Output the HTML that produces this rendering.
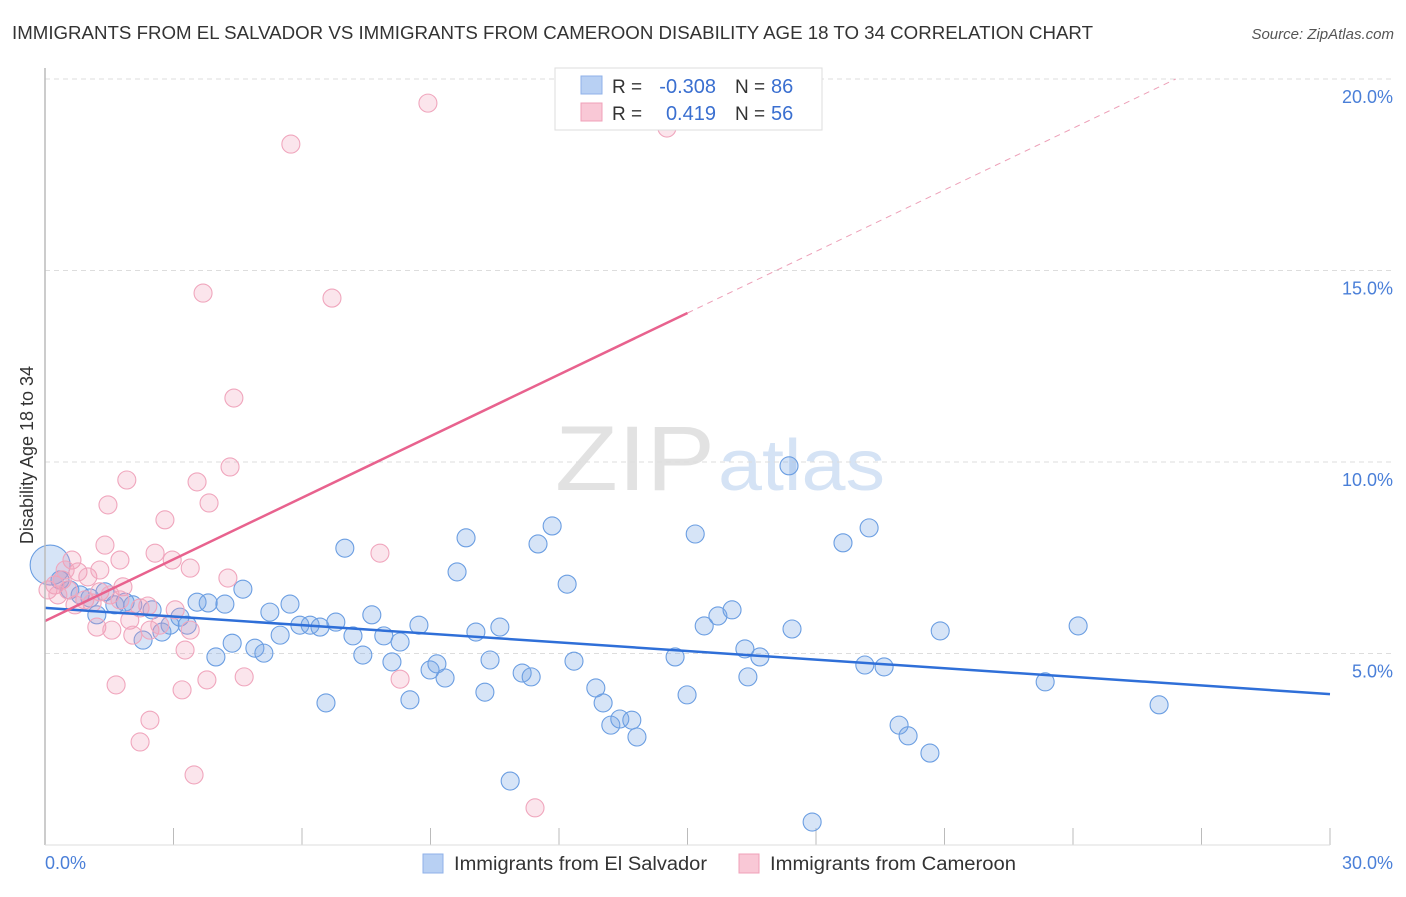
<!DOCTYPE html>
<html><head><meta charset="utf-8"><style>
body{margin:0;background:#fff;font-family:"Liberation Sans",sans-serif;}
svg text{font-family:"Liberation Sans",sans-serif;}
</style></head><body>
<svg width="1406" height="892" xmlns="http://www.w3.org/2000/svg">
<text x="12" y="39" font-size="18" fill="#333" textLength="1081" lengthAdjust="spacingAndGlyphs">IMMIGRANTS FROM EL SALVADOR VS IMMIGRANTS FROM CAMEROON DISABILITY AGE 18 TO 34 CORRELATION CHART</text>
<text x="1394" y="39" font-size="15" fill="#555" text-anchor="end" font-style="italic">Source: ZipAtlas.com</text>
<text x="555" y="490" font-size="92" fill="#e2e2e2" textLength="160" lengthAdjust="spacingAndGlyphs" font-family="Liberation Serif">ZIP</text>
<text x="718" y="490" font-size="72" fill="#d5e3f5" textLength="167" lengthAdjust="spacingAndGlyphs">atlas</text>
<g id="grid"></g>
<g id="blue"></g>
<g id="pink"></g>
<g id="trend"></g>
<line x1="45" y1="68" x2="45" y2="845" stroke="#bbb" stroke-width="1.5"/>
<line x1="45" y1="845" x2="1330" y2="845" stroke="#ddd"/>
<text transform="translate(33,455) rotate(-90)" font-size="18" fill="#333" text-anchor="middle">Disability Age 18 to 34</text>
<text x="45" y="869" font-size="18" fill="#4a7fd8">0.0%</text>
<text x="1393" y="869" font-size="18" fill="#4a7fd8" text-anchor="end">30.0%</text>
<g>
<rect x="555" y="68" width="267" height="62" fill="#fff" stroke="#ddd"/>
<rect x="581" y="76" width="21" height="18" fill="#b8d0f3" stroke="#8fb1e8"/>
<rect x="581" y="103" width="21" height="18" fill="#f9c8d6" stroke="#f0a0b8"/>
<text x="612" y="93" font-size="19" fill="#333">R =</text>
<text x="716" y="93" font-size="20" fill="#3a6fd0" text-anchor="end">-0.308</text>
<text x="735" y="93" font-size="19" fill="#333">N =</text>
<text x="771" y="93" font-size="20" fill="#3a6fd0">86</text>
<text x="612" y="120" font-size="19" fill="#333">R =</text>
<text x="716" y="120" font-size="20" fill="#3a6fd0" text-anchor="end">0.419</text>
<text x="735" y="120" font-size="19" fill="#333">N =</text>
<text x="771" y="120" font-size="20" fill="#3a6fd0">56</text>
</g>
<g><rect x="423" y="854" width="20" height="19" fill="#b8d0f3" stroke="#8fb1e8"/><text x="454" y="870" font-size="19" fill="#333" textLength="253" lengthAdjust="spacingAndGlyphs">Immigrants from El Salvador</text></g>
<g><rect x="739" y="854" width="20" height="19" fill="#f9c8d6" stroke="#f0a0b8"/><text x="770" y="870" font-size="19" fill="#333" textLength="246" lengthAdjust="spacingAndGlyphs">Immigrants from Cameroon</text></g>
</svg>
<script>
const yTicks=[5,10,15,20];
const xTicks=[0,3,6,9,12,15,18,21,24,27,30];
const blueX=[0.12,0.35,0.58,0.82,1.05,1.21,1.40,1.63,1.87,2.05,2.29,2.50,2.73,2.92,3.15,3.32,3.55,3.81,3.99,4.20,4.37,4.62,4.90,5.11,5.25,5.49,5.72,5.95,6.19,6.42,6.56,6.79,7.00,7.19,7.42,7.63,7.91,8.10,8.29,8.52,8.73,8.99,9.15,9.34,9.62,9.83,10.06,10.27,10.39,10.62,10.86,11.14,11.35,11.51,11.84,12.19,12.35,12.86,13.03,13.21,13.42,13.70,13.82,14.71,14.99,15.18,15.39,15.71,16.04,16.34,16.41,16.69,17.37,17.44,17.91,18.63,19.14,19.24,19.59,19.94,20.15,20.66,20.90,23.35,24.12,26.01];
const blueY=[7.31,6.92,6.66,6.53,6.45,6.01,6.61,6.27,6.34,6.27,5.35,6.14,5.56,5.74,5.95,5.74,6.34,6.32,4.91,6.29,5.27,6.68,5.14,5.01,6.08,5.48,6.29,5.74,5.74,5.69,3.71,5.82,7.75,5.46,4.96,6.01,5.46,4.78,5.30,3.79,5.74,4.57,4.73,4.36,7.13,8.02,5.56,3.99,4.83,5.69,1.67,4.49,4.39,7.86,8.33,6.81,4.80,4.10,3.71,3.13,3.29,3.26,2.82,4.91,3.92,8.12,5.72,5.98,6.14,5.12,4.39,4.91,9.90,5.64,0.60,7.89,4.70,8.28,4.65,3.13,2.85,2.40,5.59,4.26,5.72,3.66];
const pinkX=[0.07,0.23,0.40,0.54,0.63,0.77,0.93,1.10,1.21,1.28,1.40,1.47,1.56,1.66,1.75,1.82,1.91,1.98,2.05,2.22,2.40,2.45,2.57,2.80,2.97,3.20,3.27,3.39,3.48,3.55,3.69,3.78,3.83,4.27,4.32,4.41,4.65,5.74,6.70,7.82,8.29,8.94,11.44,14.52,1.52,1.00,0.30,0.70,0.47,2.22,2.45,2.68,3.04,1.28,1.75,3.39];
const pinkY=[6.66,6.79,6.92,6.66,7.44,7.13,6.40,6.32,5.69,6.61,7.83,8.88,5.61,4.18,7.44,6.74,9.53,5.87,5.48,2.69,6.24,3.26,7.62,8.49,7.44,4.05,5.09,7.23,1.83,9.48,14.41,4.31,8.93,6.97,9.87,11.67,4.39,18.30,14.28,7.62,4.33,19.37,0.97,18.72,6.53,7.00,6.53,6.27,7.18,6.19,5.61,5.74,6.14,7.18,6.40,5.61];
const blueTrend=[6.19,3.94];   // value at x=0, x=30
const pinkTrend=[5.85,13.89];  // value at x=0, x=15
const NS='http://www.w3.org/2000/svg';
const sx=v=>45+v/30*1285;
const sy=v=>845-v/5*191.5;
function mk(tag,at,parent){const e=document.createElementNS(NS,tag);for(const k in at)e.setAttribute(k,at[k]);parent.appendChild(e);return e;}
const grid=document.getElementById('grid');
yTicks.forEach(t=>{
 const l=mk('line',{x1:45,x2:1393,y1:sy(t),y2:sy(t),stroke:'#ddd','stroke-dasharray':'5,4'},grid);
 
 
 const tx=mk('text',{x:1393,y:sy(t)+24,'font-size':18,fill:'#4a7fd8','text-anchor':'end'},grid);
 tx.textContent=t.toFixed(1)+'%';
 
 
});
xTicks.forEach(t=>{
 const l=mk('line',{x1:sx(t),x2:sx(t),y1:828,y2:845,stroke:'#bbb'},grid);
 
 
});
const bg=document.getElementById('blue');
blueX.forEach((x,i)=>{
 const c=mk('circle',{cx:sx(x),cy:sy(blueY[i]),r:i===0?20:9,fill:'rgba(120,165,230,0.3)',stroke:'#6b9ee2','stroke-width':1.1},bg);
 
 
});
const pg=document.getElementById('pink');
pinkX.forEach((x,i)=>{
 const c=mk('circle',{cx:sx(x),cy:sy(pinkY[i]),r:9,fill:'rgba(240,150,180,0.25)',stroke:'#f0a6bd','stroke-width':1.1},pg);
 
 
});
const tg=document.getElementById('trend');
const bl=mk('line',{x1:sx(0),y1:sy(blueTrend[0]),x2:sx(30),y2:sy(blueTrend[1]),stroke:'#2f6fd8','stroke-width':2.5},tg);


const pl=mk('line',{x1:sx(0),y1:sy(pinkTrend[0]),x2:sx(15),y2:sy(pinkTrend[1]),stroke:'#e8628e','stroke-width':2.5},tg);


const slope=(pinkTrend[1]-pinkTrend[0])/15;
const xEnd=Math.min(30,(20-pinkTrend[0])/slope);
const pd=mk('line',{x1:sx(15),y1:sy(pinkTrend[1]),x2:sx(xEnd),y2:sy(pinkTrend[0]+slope*xEnd),stroke:'#eda0b8','stroke-width':1,'stroke-dasharray':'6,5'},tg);


</script>
</body></html>
